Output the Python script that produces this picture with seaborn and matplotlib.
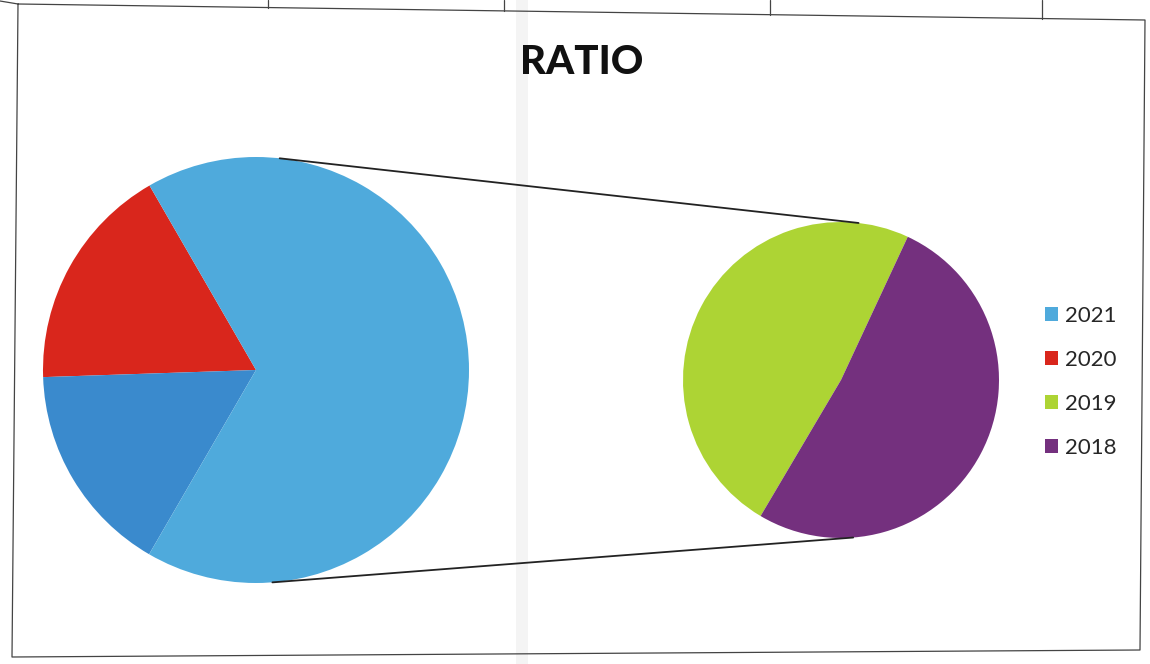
import numpy as np
import matplotlib
matplotlib.use("Agg")
import matplotlib.pyplot as plt
import seaborn as sns
from matplotlib.lines import Line2D
from matplotlib.patches import Patch, Rectangle

# data (share of each year)
years = ["2021", "2020", "2019", "2018"]
ratio = [66.7, 17.2, 7.8, 8.3]
colors = ["#4FAADC", "#D9261C", "#ADD434", "#74307E"]
other_color = "#3A8ACD"

sns.set_theme(style="white")
plt.rcParams["font.family"] = ["Lato", "DejaVu Sans"]

W, H = 1150, 664
fig = plt.figure(figsize=(W / 100, H / 100), dpi=100)
fig.patch.set_facecolor("white")

# pie positions in pixels (centre x, centre y from top, radius)
c1, r1 = (256, 370), 213
c2, r2 = (841, 380), 158


def axes_box(c, r):
    return [(c[0] - r) / W, 1 - (c[1] + r) / H, 2 * r / W, 2 * r / H]


# main pie: 2021, 2020 and "other" (= 2019 + 2018)
other = ratio[2] + ratio[3]
main_vals = [ratio[1], other, ratio[0]]
main_cols = [colors[1], other_color, colors[0]]
ax1 = fig.add_axes(axes_box(c1, r1))
ax1.pie(main_vals, colors=main_cols, startangle=120, counterclock=True,
        radius=1, wedgeprops=dict(linewidth=0))
ax1.set_xlim(-1, 1)
ax1.set_ylim(-1, 1)
ax1.axis("off")

# second pie: 2019, 2018
ax2 = fig.add_axes(axes_box(c2, r2))
ax2.pie(ratio[2:], colors=colors[2:], startangle=65, counterclock=True,
        radius=1, wedgeprops=dict(linewidth=0))
ax2.set_xlim(-1, 1)
ax2.set_ylim(-1, 1)
ax2.axis("off")

# connector lines = outer tangents of the two circles
p1 = np.array([c1[0], H - c1[1]], float)
p2 = np.array([c2[0], H - c2[1]], float)
d = np.linalg.norm(p2 - p1)
phi = np.arctan2(*(p2 - p1)[::-1])
alpha = np.arccos((r1 - r2) / d)
for s in (1, -1):
    a = phi + s * alpha
    u = np.array([np.cos(a), np.sin(a)])
    q1 = p1 + r1 * u
    q2 = p2 + r2 * u
    fig.add_artist(Line2D([q1[0] / W, q2[0] / W], [q1[1] / H, q2[1] / H],
                          transform=fig.transFigure, color="#222222", lw=1.3))

# title
fig.text(582 / W, 1 - 62 / H, "RATIO", ha="center", va="center",
         fontsize=29, fontweight="black", color="#111111")

# legend
handles = [Patch(facecolor=c, edgecolor="none") for c in colors]
fig.legend(handles, years, loc="center left", bbox_to_anchor=(1034 / W, 1 - 382 / H),
           frameon=False, fontsize=16, handlelength=0.6, handleheight=0.6,
           handletextpad=0.3, labelspacing=1.08, borderpad=0)

# scanned page frame
frame_x = [18, 1145, 1140, 12, 18]
frame_y = [4, 20, 650, 657, 4]
fig.add_artist(Line2D(np.array(frame_x) / W, 1 - np.array(frame_y) / H,
                      transform=fig.transFigure, color="#444444", lw=0.9))
fig.add_artist(Line2D([0, 18 / W], [1 - 1 / H, 1 - 4 / H],
                      transform=fig.transFigure, color="#444444", lw=0.9))
for tx in [268, 504, 770, 1042]:
    ty = 4 + (tx - 18) * 16 / 1127
    fig.add_artist(Line2D([tx / W, tx / W], [1.0, 1 - ty / H],
                          transform=fig.transFigure, color="#444444", lw=0.9))
fig.add_artist(Rectangle((516 / W, 0), 12 / W, 1, transform=fig.transFigure,
                         facecolor="#999999", alpha=0.1, edgecolor="none"))

fig.savefig("out.png", dpi=100)
